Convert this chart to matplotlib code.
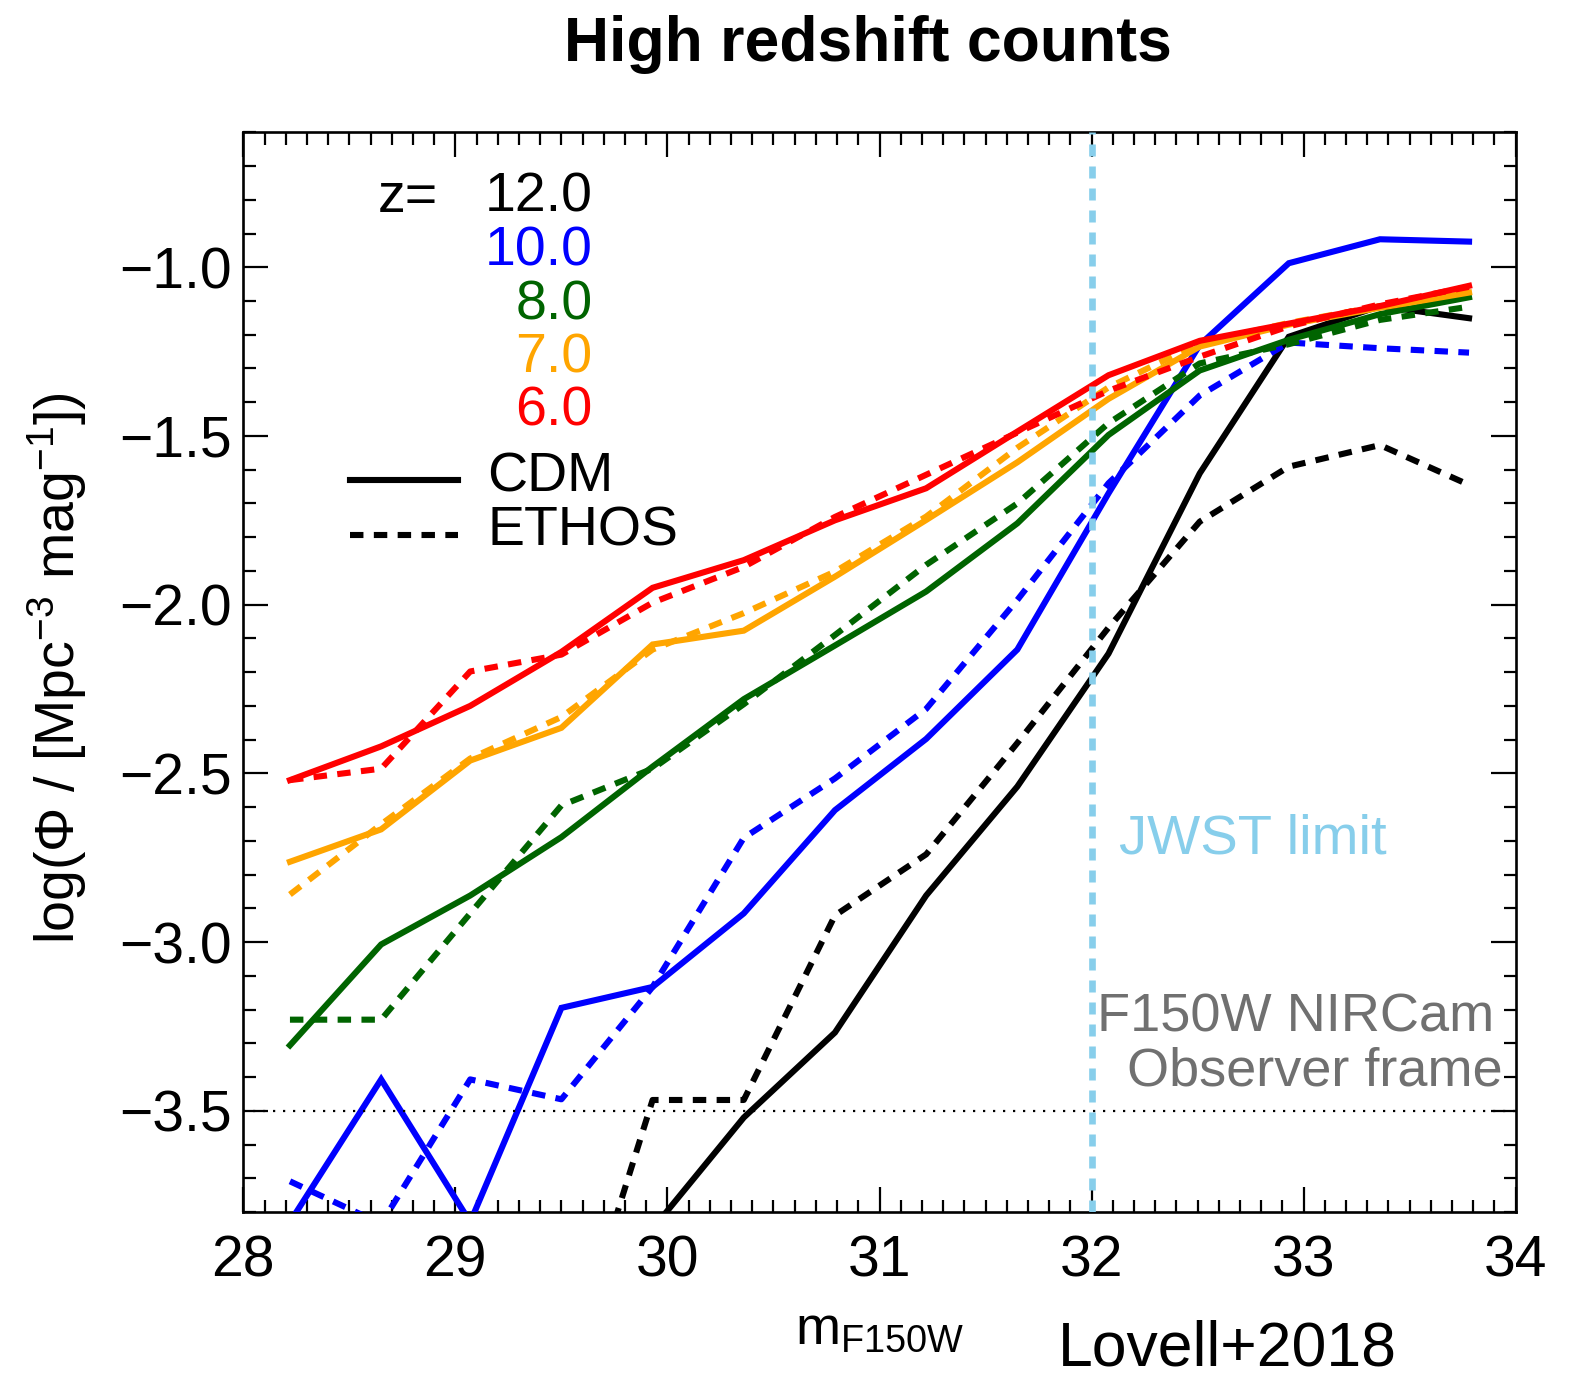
import numpy as np
import matplotlib
matplotlib.use("Agg")
import matplotlib.pyplot as plt
from matplotlib.ticker import MultipleLocator, FuncFormatter

plt.rcParams['font.family'] = ['Liberation Sans', 'DejaVu Sans']
plt.rcParams['mathtext.fontset'] = 'custom'
plt.rcParams['mathtext.rm'] = 'Liberation Sans'
plt.rcParams['mathtext.it'] = 'Liberation Sans:italic'
plt.rcParams['mathtext.bf'] = 'Liberation Sans:bold'

# ---------------- data ----------------
mag = [28.22, 28.65, 29.07, 29.50, 29.93, 30.36, 30.79, 31.22, 31.65, 32.08, 32.51, 32.93, 33.36, 33.78]

redshifts = ["12.0", "10.0", "8.0", "7.0", "6.0"]
colors = ["#000000", "#0000FF", "#006400", "#FFA500", "#FF0000"]

cdm_z12 = [np.nan, np.nan, np.nan, np.nan, -3.85, -3.52, -3.268, -2.862, -2.539, -2.145, -1.611, -1.206, -1.115, -1.151]
eth_z12 = [np.nan, np.nan, np.nan, -4.33, -3.468, -3.468, -2.921, -2.74, -2.41, -2.068, -1.754, -1.591, -1.527, -1.645]

cdm_z10 = [-3.83, -3.407, -3.83, -3.195, -3.133, -2.915, -2.609, -2.398, -2.133, -1.67, -1.23, -0.988, -0.917, -0.924]
eth_z10 = [-3.709, -3.835, -3.407, -3.466, -3.133, -2.691, -2.515, -2.309, -1.986, -1.64, -1.38, -1.223, -1.24, -1.253]

cdm_z8 = [-3.306, -3.007, -2.862, -2.689, -2.48, -2.28, -2.121, -1.961, -1.759, -1.497, -1.306, -1.215, -1.139, -1.089]
eth_z8 = [-3.23, -3.23, -2.915, -2.595, -2.486, -2.295, -2.09, -1.882, -1.70, -1.462, -1.285, -1.228, -1.156, -1.117]

cdm_z7 = [-2.762, -2.666, -2.462, -2.365, -2.118, -2.077, -1.917, -1.749, -1.578, -1.39, -1.235, -1.17, -1.12, -1.075]
eth_z7 = [-2.859, -2.651, -2.456, -2.333, -2.133, -2.025, -1.902, -1.739, -1.535, -1.356, -1.225, -1.165, -1.115, -1.07]

cdm_z6 = [-2.52, -2.42, -2.30, -2.14, -1.95, -1.868, -1.75, -1.655, -1.487, -1.32, -1.218, -1.167, -1.115, -1.055]
eth_z6 = [-2.52, -2.486, -2.198, -2.148, -1.994, -1.888, -1.74, -1.615, -1.49, -1.366, -1.265, -1.175, -1.11, -1.058]

cdm_series = [cdm_z12, cdm_z10, cdm_z8, cdm_z7, cdm_z6]
eth_series = [eth_z12, eth_z10, eth_z8, eth_z7, eth_z6]

jwst_limit = 32.0
count_floor = -3.5

# ---------------- figure ----------------
W, H = 1577, 1379
fig = plt.figure(figsize=(W / 100, H / 100), dpi=100)
ax = fig.add_axes([243.3 / W, 1 - 1212 / H, (1515.7 - 243.3) / W, (1212 - 132.3) / H])

LW = 4.4
DASH = (2.2, 1.7)
for col, c, e in zip(colors, cdm_series, eth_series):
    ax.plot(mag, c, color=col, lw=LW, solid_joinstyle='miter', zorder=3)
    ax.plot(mag, e, color=col, lw=LW, dashes=DASH, zorder=3)

ax.axvline(jwst_limit, color='#87CEEB', lw=4.8, dashes=(1.8, 1.5), zorder=4)
ax.axhline(count_floor, color='black', lw=1.6, dashes=(1.0, 3.5), zorder=4)

ax.set_xlim(28, 34)
ax.set_ylim(-3.8, -0.6)

ax.xaxis.set_major_locator(MultipleLocator(1))
ax.xaxis.set_minor_locator(MultipleLocator(0.1))
ax.yaxis.set_major_locator(MultipleLocator(0.5))
ax.yaxis.set_minor_locator(MultipleLocator(0.1))
ax.yaxis.set_major_formatter(FuncFormatter(lambda v, p: ("\u2212%.1f" % abs(v)) if v < 0 else "%.1f" % v))
ax.xaxis.set_major_formatter(FuncFormatter(lambda v, p: "%d" % round(v)))

ax.tick_params(which='both', direction='in', top=True, right=True, width=1.6)
ax.tick_params(which='major', length=18, labelsize=41)
ax.tick_params(axis='x', which='major', pad=16)
ax.tick_params(axis='y', which='major', pad=8)
ax.tick_params(which='minor', length=9)
for s in ax.spines.values():
    s.set_linewidth(1.9)

# axis labels
ax.set_xlabel(r'm$_{\mathrm{F150W}}$', fontsize=39)
ax.xaxis.label.set_va('baseline')
ax.xaxis.set_label_coords(0.5, (1212 - 1344) / 1079.7)

fig.text(57 / W, 1 - 668.5 / H, r'log($\Phi$ / [Mpc$^{-3}$ mag$^{-1}$])', rotation=90,
         ha='center', va='center', fontsize=40)

# title and credit
fig.text(868 / W, 1 - 60.5 / H, 'High redshift counts', ha='center', va='baseline',
         fontsize=45, fontweight='bold')
fig.text(1058 / W, 1 - 1366 / H, 'Lovell+2018', ha='left', va='baseline', fontsize=45)

# in-plot legend (axes fraction)
def fx(px):
    return (px - 243.3) / 1272.4

def fy(py):
    return (1212 - py) / 1079.7

ax.text(fx(378), fy(211.7), 'z=', ha='left', va='baseline', fontsize=40, transform=ax.transAxes)
z_base = [211.7, 265.0, 319.0, 372.3, 426.0]
for lab, col, yb in zip(redshifts, colors, z_base):
    ax.text(fx(592.5), fy(yb), lab, ha='right', va='baseline', fontsize=40,
            color=col, transform=ax.transAxes)

ax.plot([fx(350), fx(458.3)], [fy(480), fy(480)], color='black', lw=LW,
        transform=ax.transAxes, clip_on=False)
ax.plot([fx(350), fx(458.3)], [fy(535), fy(535)], color='black', lw=LW, dashes=DASH,
        transform=ax.transAxes, clip_on=False)
ax.text(fx(487), fy(491), 'CDM', ha='left', va='baseline', fontsize=40, transform=ax.transAxes)
ax.text(fx(487), fy(545), 'ETHOS', ha='left', va='baseline', fontsize=40, transform=ax.transAxes)

# annotations
ax.text(fx(1119), fy(854), 'JWST limit', ha='left', va='baseline', fontsize=40.5,
        color='#87CEEB', transform=ax.transAxes)
ax.text(fx(1494), fy(1031.5), 'F150W NIRCam', ha='right', va='baseline', fontsize=39,
        color='#707070', transform=ax.transAxes)
ax.text(fx(1503), fy(1085), 'Observer frame', ha='right', va='baseline', fontsize=39,
        color='#707070', transform=ax.transAxes)

fig.savefig('out.png', dpi=100)
